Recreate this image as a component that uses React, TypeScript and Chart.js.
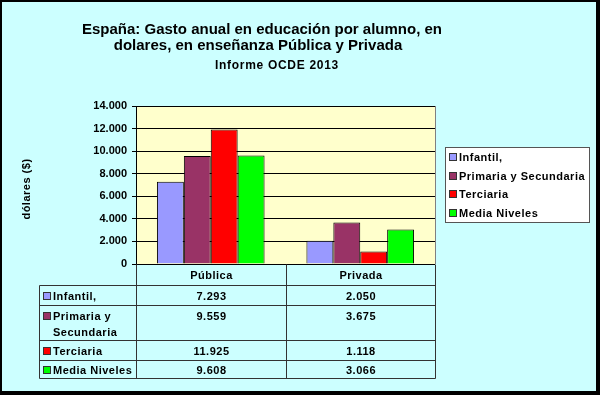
import React, { useEffect, useRef } from "react";
import { Chart, registerables } from "chart.js";

Chart.register(...registerables);

const categories = ["Pública", "Privada"];
const seriesNames = ["Infantil,", "Primaria y Secundaria", "Terciaria", "Media Niveles"];
const tableLabels = [["Infantil,"], ["Primaria y", "Secundaria"], ["Terciaria"], ["Media Niveles"]];
const infantil = [7293, 2050];
const primaria = [9559, 3675];
const terciaria = [11925, 1118];
const media = [9608, 3066];
const seriesColors = ["#9999FF", "#993366", "#FF0000", "#00FF00"];
const yTicks = [0, 2000, 4000, 6000, 8000, 10000, 12000, 14000];
const titleLines = ["España: Gasto anual en educación por alumno, en", "dolares, en enseñanza Pública y Privada"];
const subtitle = "Informe OCDE 2013";
const yTitle = "dólares ($)";

const FONT = "'Liberation Sans', Arial, sans-serif";

function fmt(v: number): string {
  const s = Math.round(v).toString();
  return s.replace(/\B(?=(\d{3})+(?!\d))/g, ".");
}

const seriesData = [infantil, primaria, terciaria, media];

const framePlugin = {
  id: "frame",
  beforeDraw(chart: any) {
    const { ctx, chartArea } = chart;
    ctx.save();
    ctx.fillStyle = "#000";
    ctx.fillRect(0, 0, 600, 395);
    ctx.fillStyle = "#CCFFFF";
    ctx.fillRect(2, 2, 594, 389);
    ctx.fillStyle = "#FFFFCC";
    ctx.fillRect(chartArea.left, chartArea.top, chartArea.right - chartArea.left, chartArea.bottom - chartArea.top);
    ctx.restore();
  },
  afterDraw(chart: any) {
    const { ctx, chartArea, scales } = chart;
    ctx.save();
    // plot area right border
    ctx.strokeStyle = "#808080";
    ctx.lineWidth = 1;
    ctx.beginPath();
    ctx.moveTo(Math.round(chartArea.right) + 0.5, chartArea.top);
    ctx.lineTo(Math.round(chartArea.right) + 0.5, chartArea.bottom);
    ctx.stroke();

    // titles
    ctx.fillStyle = "#000";
    ctx.textAlign = "center";
    ctx.textBaseline = "alphabetic";
    ctx.font = `bold 15px ${FONT}`;
    ctx.fillText(titleLines[0], 262, 34);
    ctx.fillText(titleLines[1], 258, 50);
    ctx.font = `bold 12px ${FONT}`;
    (ctx as any).letterSpacing = "0.7px";
    ctx.fillText(subtitle, 277, 69);

    (ctx as any).letterSpacing = "0.5px";
    // y title
    ctx.save();
    ctx.translate(30, 189);
    ctx.rotate(-Math.PI / 2);
    ctx.font = `bold 11px ${FONT}`;
    ctx.textAlign = "center";
    ctx.fillText(yTitle, 0, 0);
    ctx.restore();

    // data table
    const x = scales.x;
    const left = Math.round(chartArea.left) + 0.5;
    const right = Math.round(chartArea.right) + 0.5;
    const mid = Math.round((x.getPixelForValue(0) + x.getPixelForValue(1)) / 2) + 0.5;
    const tLeft = 39.5;
    const top = Math.round(chartArea.bottom) + 0.5;
    const rows = [285.5, 305.5, 340.5, 360.5, 378.5];
    ctx.strokeStyle = "#333";
    ctx.lineWidth = 1;
    ctx.beginPath();
    ctx.moveTo(left, top); ctx.lineTo(left, rows[4]);
    ctx.moveTo(mid, top); ctx.lineTo(mid, rows[4]);
    ctx.moveTo(right, top); ctx.lineTo(right, rows[4]);
    ctx.moveTo(tLeft, rows[0]); ctx.lineTo(tLeft, rows[4]);
    for (const r of rows) {
      ctx.moveTo(tLeft, r); ctx.lineTo(right, r);
    }
    ctx.stroke();

    ctx.font = `bold 11px ${FONT}`;
    ctx.fillStyle = "#000";
    ctx.textAlign = "center";
    const colCenters = [(left + mid) / 2, (mid + right) / 2];
    categories.forEach((c, i) => ctx.fillText(c, colCenters[i], 279));
    const baselines = [300, 320, 355, 374];
    seriesData.forEach((arr, si) => {
      const b = baselines[si];
      ctx.textAlign = "center";
      ctx.fillStyle = "#000";
      arr.forEach((v, ci) => ctx.fillText(fmt(v), colCenters[ci], b));
      ctx.fillStyle = seriesColors[si];
      ctx.fillRect(43, b - 7, 8, 7);
      ctx.strokeStyle = "#333";
      ctx.strokeRect(43.5, b - 7.5, 7, 7);
      ctx.fillStyle = "#000";
      ctx.textAlign = "left";
      tableLabels[si].forEach((t, li) => ctx.fillText(t, 53, b + li * 16));
    });

    // legend
    ctx.fillStyle = "#FFFFFF";
    ctx.fillRect(445, 147, 144, 75);
    ctx.strokeStyle = "#555";
    ctx.strokeRect(445.5, 147.5, 144, 75);
    const lb = [161, 180, 198, 217];
    seriesNames.forEach((n, i) => {
      ctx.fillStyle = seriesColors[i];
      ctx.fillRect(449, lb[i] - 7, 8, 7);
      ctx.strokeStyle = "#333";
      ctx.strokeRect(449.5, lb[i] - 7.5, 7, 7);
      ctx.fillStyle = "#000";
      ctx.textAlign = "left";
      ctx.fillText(n, 459, lb[i]);
    });
    ctx.restore();
  },
};

export default function App() {
  const ref = useRef<HTMLCanvasElement | null>(null);
  useEffect(() => {
    document.body.style.margin = "0";
    const canvas = ref.current;
    if (!canvas) return;
    const chart = new Chart(canvas, {
      type: "bar",
      data: {
        labels: categories,
        datasets: seriesNames.map((n, i) => ({
          label: n,
          data: seriesData[i],
          backgroundColor: seriesColors[i],
          borderColor: "#000",
          borderWidth: 1,
          categoryPercentage: 0.72,
          barPercentage: 1.0,
        })),
      },
      options: {
        responsive: false,
        animation: false,
        devicePixelRatio: 1,
        layout: { padding: { left: 0, top: 106, right: 165, bottom: 131 } },
        plugins: { legend: { display: false }, title: { display: false }, tooltip: { enabled: false } },
        scales: {
          x: { display: false, grid: { display: false } },
          y: {
            min: 0,
            max: 14000,
            afterFit: (s: any) => { s.width = 136; },
            afterBuildTicks: (s: any) => { s.ticks = yTicks.map((v) => ({ value: v })); },
            ticks: {
              color: "#000",
              padding: 5,
              font: { family: FONT, size: 11, weight: "bold" },
              callback: (v: any) => fmt(Number(v)),
            },
            grid: { color: "#000", lineWidth: 1, tickLength: 4 },
            border: { color: "#000", width: 1 },
          },
        },
      },
      plugins: [framePlugin],
    });
    return () => chart.destroy();
  }, []);
  return <canvas ref={ref} width={600} height={395} style={{ display: "block" }} />;
}
